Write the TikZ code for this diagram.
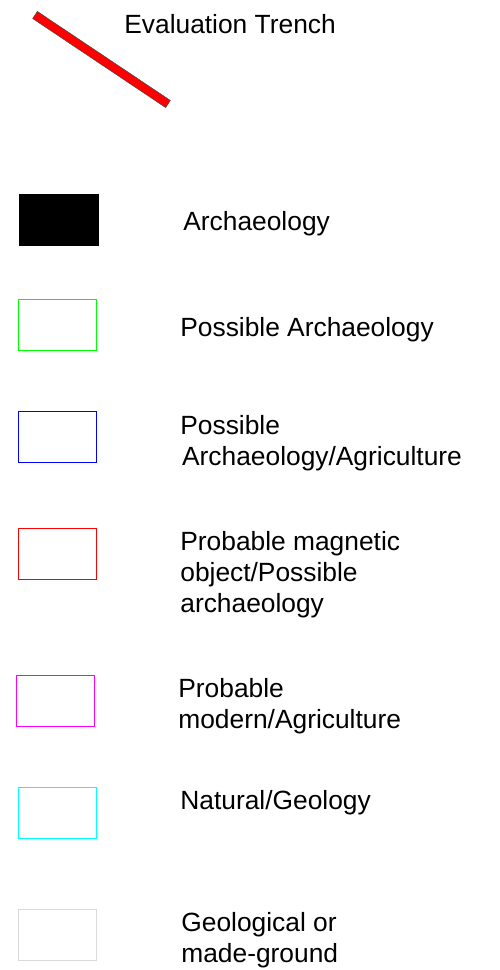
\documentclass[tikz,border=0pt]{standalone}
\usepackage{fontspec}
\setmainfont{Liberation Sans}
\usepackage{tikz}
\usetikzlibrary{positioning}

\definecolor{leggreen}{RGB}{0,255,0}
\definecolor{legblue}{RGB}{0,0,255}
\definecolor{legred}{RGB}{255,0,0}
\definecolor{legmagenta}{RGB}{255,0,255}
\definecolor{legcyan}{RGB}{0,255,255}
\definecolor{leggray}{RGB}{218,218,218}

\begin{document}
\begin{tikzpicture}[
    x=0.02cm, y=-0.02cm,
    font=\fontsize{15}{17.6}\selectfont,
    legbox/.style={draw=#1, line width=1.1pt, fill=white, minimum width=1.56cm, minimum height=1.02cm, inner sep=0pt, outer sep=0pt, anchor=north west},
    legbox/.default=black,
    legtext/.style={anchor=north west, align=left, inner sep=0pt}
  ]
    \useasboundingbox (0,0) rectangle (500,970);

    % trench symbol
    \node[draw=black!70, fill=legred, line width=0.3pt, minimum width=3.2cm, minimum height=0.17cm,
          inner sep=0pt, rotate=-33.8] (trench) at (101.5,59.5) {};
    \node[legtext] (trenchlab) at (124,14) {Evaluation Trench};

    % legend boxes
    \node[legbox=black, fill=black, line width=0.4pt, minimum width=1.58cm] (arch) at (19,194) {};
    \node[legbox=leggreen] (posarch) at (18.5,299.5) {};
    \node[legbox=legblue] (posagri) at (18.5,411.5) {};
    \node[legbox=legred] (magobj) at (18.5,528.5) {};
    \node[legbox=legmagenta] (modagri) at (16.5,675.5) {};
    \node[legbox=legcyan] (natgeo) at (18.5,787.5) {};
    \node[legbox=leggray] (madegr) at (18.5,909.5) {};

    % labels
    \node[legtext] (archlab) at (183,211) {Archaeology};
    \node[legtext] (posarchlab) at (180,317) {Possible Archaeology};
    \node[legtext] (posagrilab) at (180,415) {Possible\\\hspace{1pt}Archaeology/Agriculture};
    \node[legtext] (magobjlab) at (180,531) {Probable magnetic\\object/Possible\\archaeology};
    \node[legtext] (modagrilab) at (178,678) {Probable\\modern/Agriculture};
    \node[legtext] (natgeolab) at (180,790) {Natural/Geology};
    \node[legtext] (madegrlab) at (181,912) {Geological or\\made-ground};
\end{tikzpicture}
\end{document}
